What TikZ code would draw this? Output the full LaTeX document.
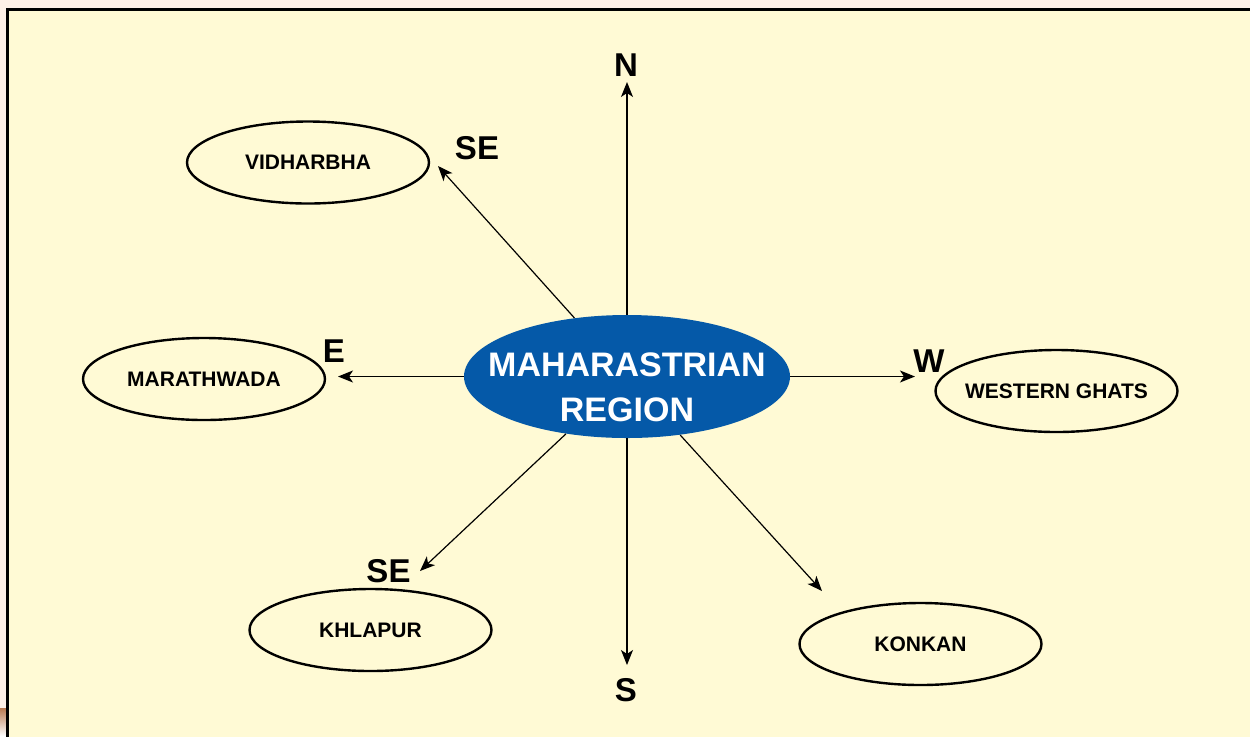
\documentclass[tikz,border=0pt]{standalone}
\usepackage{fontspec}
\setmainfont{Liberation Sans}
\usetikzlibrary{arrows.meta,shapes.geometric}
\definecolor{outerbg}{HTML}{FEF1E8}
\definecolor{innerbg}{HTML}{FFFAD5}
\definecolor{mainblue}{HTML}{0559A8}
\definecolor{brownish}{HTML}{B87A52}
\begin{document}
\begin{tikzpicture}[x=0.5pt,y=-0.5pt,
  region/.style={ellipse,draw=black,line width=1.2pt,fill=innerbg,minimum width=121pt,minimum height=41pt,inner ysep=0pt,inner xsep=-6pt,font=\fontsize{10.5pt}{12pt}\selectfont\bfseries},
  dirlabel/.style={inner sep=0pt,font=\fontsize{16.5pt}{18pt}\selectfont\bfseries},
  arr/.style={-{Stealth[length=7.5pt,width=6pt,inset=2pt]},line width=0.6pt,black}]
\useasboundingbox (0,0) rectangle (1250,736);
\fill[outerbg] (0,0) rectangle (1250,736);
\shade[top color=brownish,bottom color=white] (0,708) rectangle (7,736);
\draw[line width=1.2pt,fill=innerbg] (7.5,9.5) rectangle (1262,750);
% central node
\node[ellipse,fill=mainblue,minimum width=163pt,minimum height=61.5pt,inner sep=0pt] (c) at (627,376.5) {};
\node[text=white,align=center,inner sep=0pt,font=\fontsize{17pt}{22.5pt}\selectfont\bfseries] (ct) at (627,387.5) {MAHARASTRIAN\\REGION};
% regions
\node[region] (vid) at (308,162.5) {VIDHARBHA};
\node[region] (mar) at (204,379) {MARATHWADA};
\node[region] (wg) at (1056.5,391) {WESTERN GHATS};
\node[region] (khl) at (370.5,630) {KHLAPUR};
\node[region] (kon) at (920.5,644) {KONKAN};
% direction labels
\node[dirlabel] (ln) at (626,65) {N};
\node[dirlabel] (ls) at (626,690) {S};
\node[dirlabel] (le) at (334,351) {E};
\node[dirlabel] (lw) at (929,361.5) {W};
\node[dirlabel] (lse1) at (477,148) {SE};
\node[dirlabel] (lse2) at (388.5,571.5) {SE};
% arrow tips
\coordinate (tn) at (627,82);
\coordinate (ts) at (627,665);
\coordinate (te) at (338,376.5);
\coordinate (tw) at (915,376.5);
\coordinate (tnw) at (438,166);
\coordinate (tsw) at (420,571);
\coordinate (tse) at (822,591);
\draw[arr] (c) -- (tn);
\draw[arr] (c) -- (ts);
\draw[arr] (c) -- (te);
\draw[arr] (c) -- (tw);
\draw[arr] (c) -- (tnw);
\draw[arr] (c) -- (tsw);
\draw[arr] (c) -- (tse);
\end{tikzpicture}
\end{document}
